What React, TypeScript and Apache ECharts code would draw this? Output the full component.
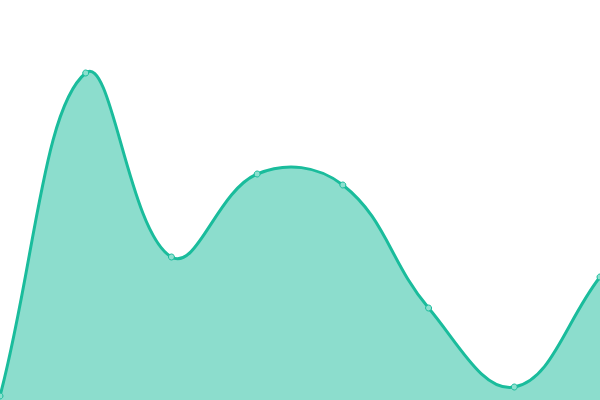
import React, { useEffect, useRef } from "react";
import * as echarts from "echarts";

const categories = ["1", "2", "3", "4", "5", "6", "7", "8"];
const values = [4, 327, 143, 226, 215, 92, 13, 123];

const LINE = "#1abc9c";
const FILL = "rgba(26,188,156,0.5)";
const POINT_FILL = "#8ce0cf";
const TENSION = 0.4;

function controlPoints(pts: number[][], t: number) {
  const n = pts.length;
  const res: { prev: number[]; next: number[] }[] = [];
  for (let i = 0; i < n; i++) {
    const cur = pts[i];
    const prev = i > 0 ? pts[i - 1] : cur;
    const next = i < n - 1 ? pts[i + 1] : cur;
    const d01 = Math.hypot(cur[0] - prev[0], cur[1] - prev[1]);
    const d12 = Math.hypot(next[0] - cur[0], next[1] - cur[1]);
    let s01 = d01 / (d01 + d12);
    let s12 = d12 / (d01 + d12);
    if (isNaN(s01)) s01 = 0;
    if (isNaN(s12)) s12 = 0;
    const fa = t * s01;
    const fb = t * s12;
    res.push({
      prev: [cur[0] - fa * (next[0] - prev[0]), cur[1] - fa * (next[1] - prev[1])],
      next: [cur[0] + fb * (next[0] - prev[0]), cur[1] + fb * (next[1] - prev[1])],
    });
  }
  return res;
}

export default function App() {
  const ref = useRef<HTMLDivElement>(null);
  useEffect(() => {
    document.body.style.margin = "0";
    const chart = echarts.init(ref.current!, undefined, { renderer: "svg" });
    const renderItem = (params: any, api: any) => {
      const me = api.coord([api.value(0), api.value(1)]);
      const circle = {
        type: "circle",
        shape: { cx: me[0], cy: me[1], r: 3 },
        style: { fill: POINT_FILL, stroke: LINE, lineWidth: 1 },
        z2: 10,
      };
      if (params.dataIndexInside !== 0) return circle;
      const n = params.dataInsideLength;
      const pts: number[][] = [];
      for (let i = 0; i < n; i++) {
        pts.push(api.coord([api.value(0, i), api.value(1, i)]));
      }
      const cps = controlPoints(pts, TENSION);
      let d = `M${pts[0][0]},${pts[0][1]}`;
      for (let i = 1; i < n; i++) {
        const c1 = cps[i - 1].next;
        const c2 = cps[i].prev;
        d += ` C${c1[0]},${c1[1]} ${c2[0]},${c2[1]} ${pts[i][0]},${pts[i][1]}`;
      }
      const base = api.coord([0, 0])[1];
      const area = `${d} L${pts[n - 1][0]},${base} L${pts[0][0]},${base} Z`;
      return {
        type: "group",
        children: [
          { type: "path", shape: { pathData: area }, style: { fill: FILL } },
          {
            type: "path",
            shape: { pathData: d },
            style: { fill: "none", stroke: LINE, lineWidth: 3 },
          },
          circle,
        ],
      };
    };
    chart.setOption({
      animation: false,
      grid: { left: 0, right: 0, top: 0, bottom: 0 },
      xAxis: {
        type: "category",
        data: categories,
        boundaryGap: false,
        show: false,
      },
      yAxis: { type: "value", min: 0, max: 400, show: false },
      series: [
        {
          type: "custom",
          renderItem,
          clip: false,
          data: values.map((v, i) => [i, v]),
        },
      ],
    });
    return () => chart.dispose();
  }, []);
  return (
    <div
      ref={ref}
      style={{ position: "absolute", left: 0, top: 0, width: 600, height: 400 }}
    />
  );
}
